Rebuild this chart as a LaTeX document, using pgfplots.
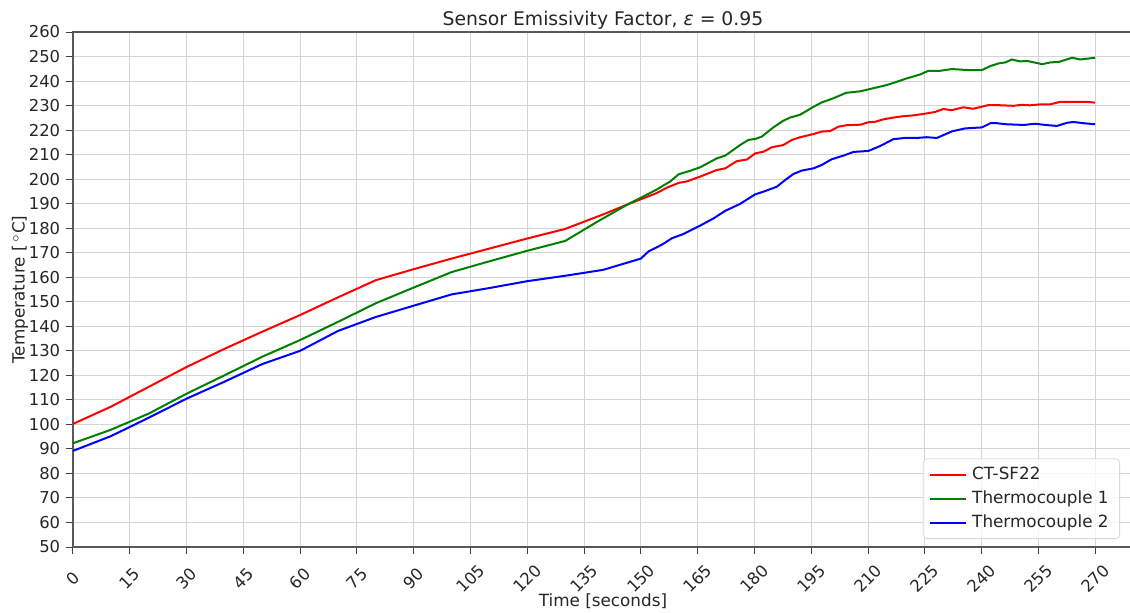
\documentclass[border=0pt]{standalone}
\usepackage{pgfplots}
\pgfplotsset{compat=1.18}
\usepackage{fontspec}
\setmainfont{DejaVu Sans}

\begin{document}
\fontsize{8.2}{10}\selectfont
\begin{tikzpicture}
\begin{axis}[
  width=530pt, height=257.5pt, scale only axis,
  xmin=0, xmax=280, ymin=50, ymax=260,
  xtick={0,15,...,270}, ytick={50,60,...,260},
  grid=major, major grid style={black!17, line width=0.5pt},
  axis line style={black!65, line width=0.6pt},
  tick align=outside, tick pos=left, major tick length=3.5pt,
  tick style={black!75, line width=0.5pt},
  /pgf/number format/assume math mode=true,
  tick label style={font=\fontsize{8.2}{10}\selectfont, text=black!85},
  xticklabel style={yshift=-12.3pt, rotate=45, anchor=center},
  title={Sensor Emissivity Factor, {\itshape ε} = 0.95},
  title style={font=\fontsize{9.4}{11}\selectfont, text=black!85, yshift=-7.5pt},
  xlabel={Time [seconds]},
  xlabel style={at={(axis description cs:0.5,0)}, anchor=north, yshift=-20.5pt, font=\fontsize{8.4}{10}\selectfont, text=black!85},
  ylabel={Temperature [\,$^\circ$C]},
  ylabel style={at={(axis description cs:0,0.5)}, anchor=center, yshift=26.5pt, font=\fontsize{8.4}{10}\selectfont, text=black!85},
  legend style={at={(1,0)}, anchor=south east, xshift=-6.5pt, yshift=4pt,
    draw=black!15, rounded corners=2pt, fill=white, fill opacity=0.8, text opacity=1,
    font=\fontsize{8.4}{10}\selectfont, nodes={inner ysep=2.2pt, inner xsep=2.5pt}, text=black!85},
  legend cell align=left,
  legend image code/.code={\draw[#1] (0pt,0pt) -- (18pt,0pt);},
]
\addplot[red, line width=1pt] coordinates {
(0,100.2) (10,107.2) (20,115.3) (30,123.4) (40,130.8) (50,137.8) (60,144.6) (70,151.8) (80,158.8) (90,163.3) (100,167.6) (110,171.7) (120,175.8) (130,179.7) (140,185.6) (147,190.0) (151,192.4) (154,194.2) (157,196.6) (160,198.5) (162,199.0) (165.6,201.0) (170,203.7) (172.3,204.4) (175.3,207.3) (178,208.0) (180.2,210.5) (182.4,211.2) (184.6,213.0) (187.6,213.9) (189.9,216.0) (192.1,217.1) (195.6,218.4) (197.8,219.4) (200,219.6) (202.2,221.4) (204.4,222.0) (208,222.2) (210.1,223.2) (211.9,223.4) (214.1,224.4) (216.7,225.1) (219.4,225.7) (222,226.0) (225.5,226.8) (227.7,227.4) (229.9,228.6) (232.1,228.1) (235.2,229.3) (237.8,228.7) (241.8,230.2) (244,230.2) (248.4,229.9) (250.6,230.3) (252.8,230.1) (255.5,230.5) (258.1,230.5) (260.7,231.5) (264.3,231.5) (267.8,231.5) (270,231.2)
};
\addlegendentry{CT-SF22}
\addplot[green!50!black, line width=1pt] coordinates {
(0,92.3) (10,97.8) (20,104.4) (30,112.5) (40,120.0) (50,127.6) (60,134.4) (70,141.8) (80,149.4) (90,155.8) (100,162.1) (110,166.5) (120,170.8) (130,174.8) (139,183.1) (147,190.1) (151,193.2) (154,195.6) (157.7,199.0) (160,202.0) (163,203.4) (165.6,204.8) (170.1,208.5) (172.3,209.6) (176.2,213.9) (178.4,216.0) (180.2,216.4) (181.9,217.3) (185,221.1) (187.6,223.8) (189.4,225.1) (192.1,226.3) (195.6,229.5) (197.8,231.3) (200.9,233.0) (204.2,235.2) (207.9,235.8) (210.1,236.6) (212.3,237.4) (215,238.4) (217.6,239.7) (220.3,241.1) (223.8,242.7) (226,244.2) (229.1,244.2) (232.2,244.9) (236.1,244.5) (240.1,244.5) (242.3,246.1) (244.5,247.2) (246.3,247.6) (248,248.8) (250.2,248.0) (252,248.2) (256,246.9) (258.2,247.6) (260.4,247.8) (263.9,249.5) (266.1,248.8) (270,249.5)
};
\addlegendentry{Thermocouple 1}
\addplot[blue, line width=1pt] coordinates {
(0,89.2) (10,95.2) (20,102.7) (30,110.5) (40,117.4) (50,124.6) (60,130.0) (70,138.1) (80,143.8) (90,148.4) (100,153.0) (110,155.6) (120,158.4) (130,160.6) (140,163.0) (150,167.6) (152,170.5) (154.2,172.2) (155.9,173.6) (158.2,175.9) (161.2,177.6) (165.6,181.0) (169.2,184.0) (172.3,187.1) (176.2,189.9) (180.2,193.8) (182.4,194.9) (185.9,196.9) (188,199.5) (190.3,202.1) (192.5,203.5) (195.6,204.4) (197.8,205.8) (200.4,208.1) (203.5,209.6) (206.2,211.1) (210.1,211.5) (213.2,213.5) (216.7,216.3) (219.8,216.8) (222.9,216.8) (225.5,217.1) (228.2,216.8) (232.2,219.5) (235.7,220.7) (240.1,221.1) (242.3,222.8) (244.1,222.8) (246.3,222.4) (251.1,222.1) (254.2,222.6) (256.8,222.1) (259.9,221.7) (262.6,223.0) (264.3,223.3) (267,222.8) (270,222.4)
};
\addlegendentry{Thermocouple 2}
\end{axis}
\pgfresetboundingbox
\path[use as bounding box] ([shift={(-36.5pt,-32.5pt)}]current axis.south west) rectangle ++(565pt,306pt);
\end{tikzpicture}
\end{document}
